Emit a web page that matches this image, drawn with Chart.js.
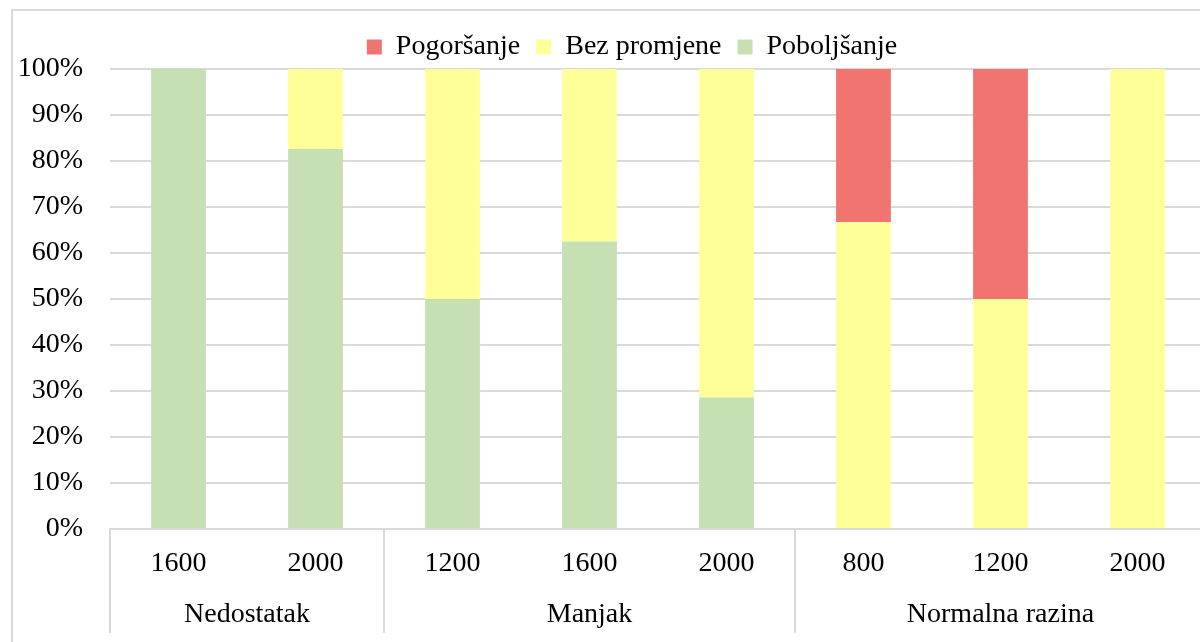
<!DOCTYPE html>
<html>
<head>
<meta charset="utf-8">
<script src="https://cdn.jsdelivr.net/npm/chart.js@4.4.1/dist/chart.umd.min.js"></script>
<style>
  html, body { margin: 0; padding: 0; width: 1200px; height: 642px; overflow: hidden; background: #fff; }
  #frame { position: absolute; left: 11px; top: 9px; width: 1300px; height: 700px; border-left: 2px solid #d9d9d9; border-top: 2px solid #d9d9d9; }
  #wrap { position: absolute; left: 0; top: 0; width: 1270px; height: 642px; }
</style>
</head>
<body>
<div id="frame"></div>
<div id="wrap"><canvas id="c" width="1270" height="642"></canvas></div>
<script>
// Data
const categories = ['1600', '2000', '1200', '1600', '2000', '800', '1200', '2000'];
const groups = ['Nedostatak', 'Manjak', 'Normalna razina'];
const groupSizes = [2, 3, 3];
const poboljsanje = [100, 82.6, 50, 62.5, 28.6, 0, 0, 0];
const bezPromjene = [0, 17.4, 50, 37.5, 71.4, 66.7, 50, 100];
const pogorsanje = [0, 0, 0, 0, 0, 33.3, 50, 0];
const yTicks = [0, 10, 20, 30, 40, 50, 60, 70, 80, 90, 100];

const FONT = "'Liberation Serif', 'Times New Roman', serif";
const FS = 28;
const GRID = '#d9d9d9';

const groupAxisPlugin = {
  id: 'groupAxis',
  afterDraw(chart) {
    const ctx = chart.ctx;
    const x = chart.scales.x;
    const area = chart.chartArea;
    const step = x.getPixelForValue(1) - x.getPixelForValue(0);
    const bottom = 633;
    ctx.save();
    ctx.strokeStyle = GRID;
    ctx.lineWidth = 2;
    let idx = 0;
    const bounds = [];
    groupSizes.forEach((n) => { bounds.push(idx); idx += n; });
    bounds.push(idx);
    bounds.forEach((b) => {
      const px = Math.round(x.getPixelForValue(b) - step / 2);
      ctx.beginPath();
      ctx.moveTo(px, area.bottom);
      ctx.lineTo(px, bottom);
      ctx.stroke();
    });
    ctx.fillStyle = '#000';
    ctx.font = FS + 'px ' + FONT;
    ctx.textAlign = 'center';
    ctx.textBaseline = 'middle';
    idx = 0;
    groups.forEach((g, i) => {
      const first = x.getPixelForValue(idx);
      const last = x.getPixelForValue(idx + groupSizes[i] - 1);
      ctx.fillText(g, (first + last) / 2, 615);
      idx += groupSizes[i];
    });
    ctx.restore();
  }
};

new Chart(document.getElementById('c'), {
  type: 'bar',
  data: {
    labels: categories,
    datasets: [
      { label: 'Poboljšanje', data: poboljsanje, backgroundColor: '#c6e0b4' },
      { label: 'Bez promjene', data: bezPromjene, backgroundColor: '#ffff99' },
      { label: 'Pogoršanje', data: pogorsanje, backgroundColor: '#f07470' }
    ]
  },
  options: {
    responsive: false,
    animation: false,
    layout: { padding: { top: 17, bottom: 9, left: 0, right: 6 } },
    datasets: { bar: { barPercentage: 0.4, categoryPercentage: 1.0, borderWidth: 0 } },
    plugins: {
      tooltip: { enabled: false },
      legend: {
        reverse: true,
        position: 'top',
        labels: {
          font: { family: FONT, size: FS },
          color: '#000',
          boxWidth: 15,
          boxHeight: 15,
          padding: 16
        }
      }
    },
    scales: {
      x: {
        stacked: true,
        grid: { display: false, drawTicks: false },
        border: { display: true, color: GRID, width: 2 },
        ticks: { font: { family: FONT, size: FS }, color: '#000', padding: 18, maxRotation: 0, autoSkip: false },
        afterFit(scale) { scale.height = 104; }
      },
      y: {
        stacked: true,
        min: 0,
        max: 100,
        afterBuildTicks(scale) { scale.ticks = yTicks.map(v => ({ value: v })); },
        grid: { color: GRID, lineWidth: 2, drawTicks: false },
        border: { display: false },
        ticks: { font: { family: FONT, size: FS }, color: '#000', padding: 27, callback: v => v + '%' },
        afterFit(scale) { scale.width = 110; }
      },
      yRight: {
        position: 'right',
        display: true,
        grid: { display: false, drawTicks: false },
        border: { display: false },
        ticks: { display: false },
        afterFit(scale) { scale.width = 58; }
      }
    }
  },
  plugins: [groupAxisPlugin, {
    id: 'legendHeight',
    afterInit(chart) {
      const legend = chart.legend;
      const fit = legend.fit;
      legend.fit = function () { fit.call(legend); this.height = 52; };
    }
  }]
});
</script>
</body>
</html>
